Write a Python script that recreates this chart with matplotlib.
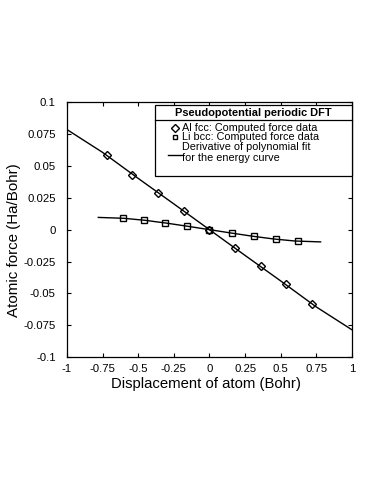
import matplotlib.pyplot as plt
from matplotlib.patches import Rectangle

plt.rcParams['font.family'] = ['Liberation Sans', 'DejaVu Sans']

# computed force data
al_x = [-0.72, -0.54, -0.36, -0.18, 0.0, 0.18, 0.36, 0.54, 0.72]
al_f = [0.0584, 0.0429, 0.0287, 0.0145, 0.0, -0.0145, -0.0287, -0.0429, -0.0584]
li_x = [-0.61, -0.46, -0.31, -0.155, 0.0, 0.155, 0.31, 0.465, 0.62]
li_f = [0.0090, 0.0074, 0.0051, 0.0027, 0.0, -0.0027, -0.0051, -0.0074, -0.0090]

# fitted curves (derivative of polynomial fit)
al_fit_x = [-1.0, -0.75, -0.5, -0.25, 0.0, 0.25, 0.5, 0.75, 1.0]
al_fit_f = [0.0785, 0.0606, 0.0402, 0.0202, 0.0, -0.0202, -0.0402, -0.0606, -0.0785]
li_fit_x = [-0.78, -0.6, -0.45, -0.3, -0.15, 0.0, 0.15, 0.3, 0.45, 0.6, 0.78]
li_fit_f = [0.0096, 0.0089, 0.0073, 0.0051, 0.0026, 0.0, -0.0026, -0.0051, -0.0073, -0.0089, -0.0096]

xticks = [-1, -0.75, -0.5, -0.25, 0, 0.25, 0.5, 0.75, 1]
xlabels = ['-1', '-0.75', '-0.5', '-0.25', '0', '0.25', '0.5', '0.75', '1']
yticks = [-0.1, -0.075, -0.05, -0.025, 0, 0.025, 0.05, 0.075, 0.1]
ylabels = ['-0.1', '-0.075', '-0.05', '-0.025', '0', '0.025', '0.05', '0.075', '0.1']

fig = plt.figure(figsize=(3.74, 4.84), dpi=100)
ax = fig.add_axes([0.179, 0.262, 0.762, 0.527])

ax.plot(al_fit_x, al_fit_f, '-k', lw=1)
ax.plot(li_fit_x, li_fit_f, '-k', lw=1)
ax.plot(al_x, al_f, 'kD', mfc='none', ms=4.5, mew=1)
ax.plot(li_x, li_f, 'ks', mfc='none', ms=3.8, mew=1)

ax.set_xlim(-1, 1)
ax.set_ylim(-0.1, 0.1)
ax.set_xticks(xticks)
ax.set_xticklabels(xlabels)
ax.set_yticks(yticks)
ax.set_yticklabels(ylabels)
ax.tick_params(direction='in', top=True, right=True, length=3, width=0.8,
               labelsize=8.2)
ax.tick_params(axis='y', pad=8)
ax.tick_params(axis='x', pad=5)
for s in ax.spines.values():
    s.set_linewidth(0.9)
ax.set_xlabel('Displacement of atom (Bohr)', fontsize=10.7)
ax.set_ylabel('Atomic force (Ha/Bohr)', fontsize=10.9)
ax.xaxis.set_label_coords(0.486, -0.079)
ax.yaxis.set_label_coords(-0.161, 0.459)

# legend drawn by hand (title row with separator, MATLAB style)
tr = ax.transAxes
x0, x1 = 0.309, 1.0
ax.add_patch(Rectangle((x0, 0.71), x1 - x0, 0.278, transform=tr,
                       facecolor='white', edgecolor='k', lw=0.9, zorder=5, clip_on=False))
ax.plot([x0, x1], [0.929, 0.929], '-k', lw=0.9, transform=tr, zorder=6, clip_on=False)
ax.text((x0 + x1) / 2, 0.958, 'Pseudopotential periodic DFT', transform=tr,
        ha='center', va='center', fontsize=7.9, fontweight='bold', zorder=6)
ax.plot([0.379], [0.898], 'kD', mfc='none', ms=4, mew=1, transform=tr, zorder=6, clip_on=False)
ax.plot([0.379], [0.863], 'ks', mfc='none', ms=3.5, mew=1, transform=tr, zorder=6, clip_on=False)
ax.plot([0.355, 0.402], [0.792, 0.792], '-k', lw=1, transform=tr, zorder=6, clip_on=False)
ax.text(0.405, 0.898, 'Al fcc: Computed force data', transform=tr, va='center', fontsize=7.8, zorder=6)
ax.text(0.405, 0.863, 'Li bcc: Computed force data', transform=tr, va='center', fontsize=7.8, zorder=6)
ax.text(0.405, 0.824, 'Derivative of polynomial fit', transform=tr, va='center', fontsize=7.8, zorder=6)
ax.text(0.405, 0.781, 'for the energy curve', transform=tr, va='center', fontsize=7.8, zorder=6)

fig.savefig('out.png', dpi=100)
